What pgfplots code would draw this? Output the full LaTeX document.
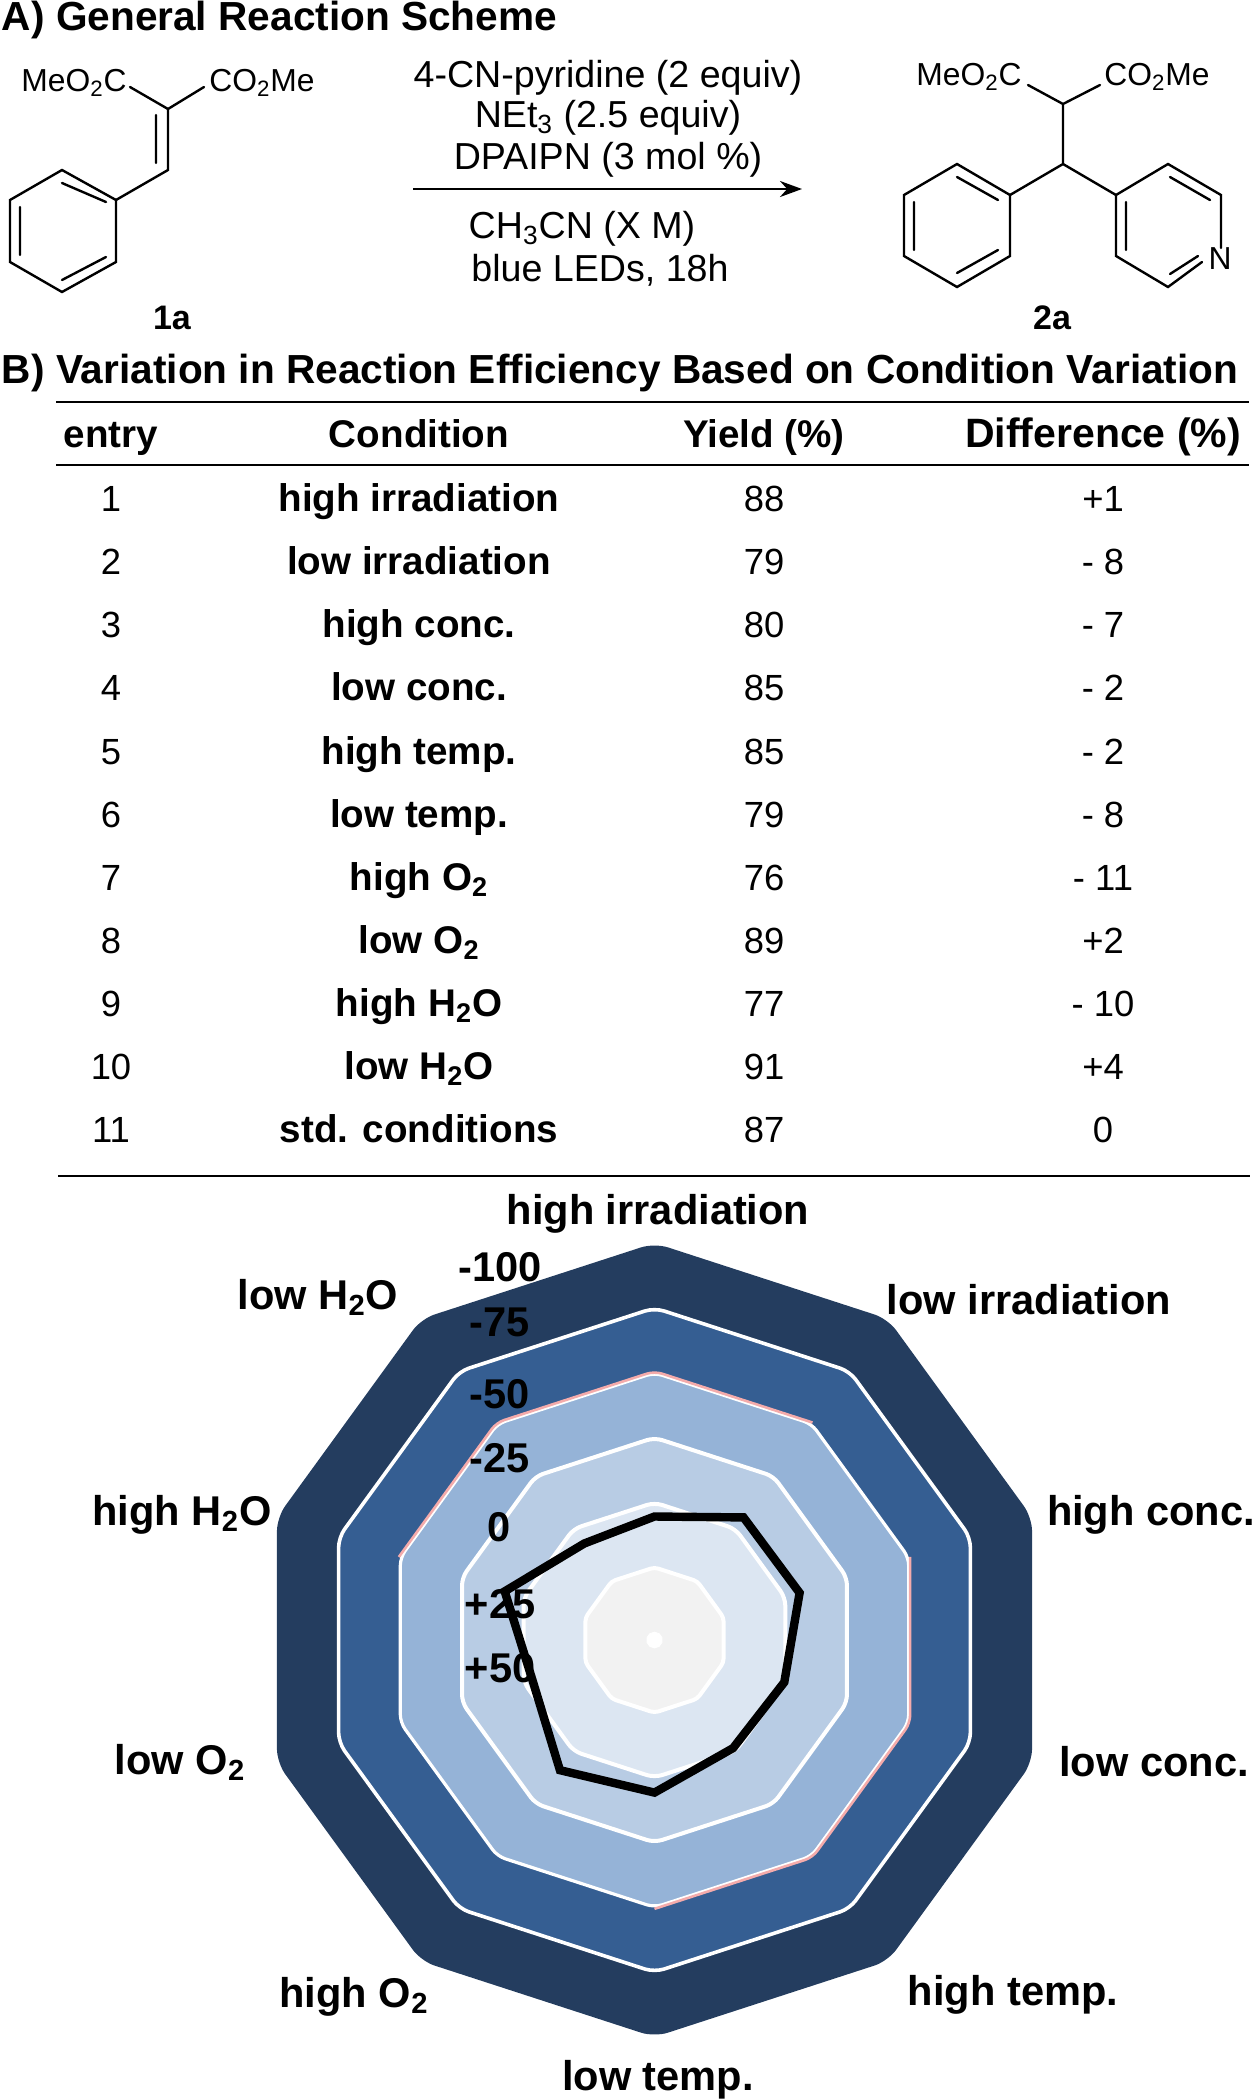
\documentclass[border=0pt]{standalone}
\usepackage{pgfplots}
\pgfplotsset{compat=1.18}
\usepackage{fontspec}
\setmainfont{Liberation Sans}
\usepgfplotslibrary{polar}
\usetikzlibrary{arrows.meta}
\newcommand\fs[1]{\fontsize{#1}{#1}\selectfont}
\newcommand\sub[1]{\textsubscript{#1}}
\definecolor{band1}{HTML}{243D5F}
\definecolor{band2}{HTML}{355E92}
\definecolor{band3}{HTML}{95B3D7}
\definecolor{band4}{HTML}{B8CCE4}
\definecolor{band5}{HTML}{DCE6F2}
\definecolor{band6}{HTML}{F2F2F2}
\definecolor{pinkline}{HTML}{F4ABAB}
\begin{document}
\begin{tikzpicture}
\path[use as bounding box] (0,0) rectangle (627pt,-1050pt);
\begin{polaraxis}[
  at={(327.25pt,-820pt)}, anchor=center,
  scale only axis, width=397pt, height=397pt,
  hide axis, clip=false,
  xmin=0, xmax=360, ymin=0, ymax=153,
]
% rings: angle, radius = 53 - difference (difference -100 is the outermost ring)
\addplot[fill=band1, draw=none, rounded corners=7pt] coordinates {(90,153)(54,153)(18,153)(342,153)(306,153)(270,153)(234,153)(198,153)(162,153)(126,153)} -- cycle;
\addplot[fill=band2, draw=white, line width=1.8pt, rounded corners=5pt] coordinates {(90,128)(54,128)(18,128)(342,128)(306,128)(270,128)(234,128)(198,128)(162,128)(126,128)} -- cycle;
\addplot[fill=band3, draw=white, line width=1.6pt, rounded corners=4pt] coordinates {(90,103)(54,103)(18,103)(342,103)(306,103)(270,103)(234,103)(198,103)(162,103)(126,103)} -- cycle;
\addplot[draw=pinkline, line width=1.3pt, rounded corners=4pt] coordinates {(162,103.6)(126,103.6)(90,103.6)(54,103.6)};
\addplot[draw=pinkline, line width=1.3pt, rounded corners=4pt] coordinates {(18,103.6)(342,103.6)(306,103.6)(270,103.6)};
\addplot[fill=band4, draw=white, line width=2pt, rounded corners=4pt] coordinates {(90,78)(54,78)(18,78)(342,78)(306,78)(270,78)(234,78)(198,78)(162,78)(126,78)} -- cycle;
\addplot[fill=band5, draw=white, line width=2pt, rounded corners=4pt] coordinates {(90,53)(54,53)(18,53)(342,53)(306,53)(270,53)(234,53)(198,53)(162,53)(126,53)} -- cycle;
\addplot[fill=band6, draw=white, line width=2pt, rounded corners=2pt] coordinates {(90,28)(54,28)(18,28)(342,28)(306,28)(270,28)(234,28)(198,28)(162,28)(126,28)} -- cycle;
\addplot[fill=white, draw=white, line width=0.5pt] coordinates {(90,3)(54,3)(18,3)(342,3)(306,3)(270,3)(234,3)(198,3)(162,3)(126,3)} -- cycle;
% reaction difference
\addplot[draw=black, line width=4.2pt, line join=miter] coordinates {(90,47.6)(54,58.4)(18,58.8)(342,52.6)(306,51.5)(270,58.8)(234,62)(198,49.5)(162,60.7)(126,46)} -- cycle;
\end{polaraxis}
\begin{scope}[x=0.5pt,y=-0.5pt,nodes={inner sep=0pt,outer sep=0pt}]
% scheme titles
\node[anchor=base west,font=\fs{20.3}\bfseries] at (2,30) {A) General Reaction Scheme};
\node[anchor=base west,font=\fs{20.3}\bfseries] at (2,383) {B) Variation in Reaction Efficiency Based on Condition Variation};
% left molecule
\begin{scope}[line width=1.2pt,line cap=round]
\draw (62,170)--(116,200)--(116,262)--(62,292)--(10,262)--(10,200)--cycle;
\draw (62,183)--(106,202) (20,207)--(20,255) (62,280)--(106,257);
\draw (116,200)--(168,170)--(168,109) (156,115)--(156,163);
\draw (130,87)--(168,109)--(204,87);
% right molecule
\draw (957,164)--(1010,195)--(1010,256)--(957,287)--(904,256)--(904,195)--cycle;
\draw (957,177)--(998,200) (914,202)--(914,250) (957,273)--(998,250);
\draw (1010,195)--(1063,164)--(1116,195) (1063,164)--(1063,104) (1028,85)--(1063,104)--(1100,85);
\draw (1221,248)--(1221,195)--(1168,164)--(1116,195)--(1116,256)--(1168,287)--(1202,262);
\draw (1170,177)--(1210,200) (1126,202)--(1126,250) (1170,274)--(1198,256);
\end{scope}
\begin{scope}[font=\fs{15.9},nodes={anchor=base}]
\node at (74,91) {MeO\sub{2}C};
\node at (262,91) {CO\sub{2}Me};
\node at (969,85) {MeO\sub{2}C};
\node at (1157,85) {CO\sub{2}Me};
\node at (1220,269) {N};
\end{scope}
\begin{scope}[font=\fs{18.8},nodes={anchor=base}]
\node at (608,87) {4-CN-pyridine (2 equiv)};
\node at (608,127) {NEt\sub{3} (2.5 equiv)};
\node at (608,169) {DPAIPN (3 mol \%)};
\node at (582,238) {CH\sub{3}CN (X M)};
\node at (600,281) {blue LEDs, 18h};
\end{scope}
\draw[line width=1.3pt,-{Stealth[length=11pt,width=8pt]}] (413,189)--(802,189);
\node[anchor=base,font=\fs{17}\bfseries] at (172,329) {1a};
\node[anchor=base,font=\fs{17}\bfseries] at (1052,329) {2a};
% table
\draw[line width=1pt] (56,402)--(1249,402) (56,465)--(1249,465) (58,1176)--(1250,1176);
\begin{scope}[font=\fs{19.3}\bfseries,nodes={anchor=base}]
\node at (111,447) {entry};
\node at (419,447) {Condition};
\node at (764,447) {Yield (\%)};
\node[font=\fs{20.5}\bfseries] at (1103,447) {Difference (\%)};
\end{scope}
\foreach \y/\n/\c/\v/\d in {498/1/high irradiation/88/+1,561/2/low irradiation/79/- 8,624.5/3/high conc./80/- 7,687.5/4/low conc./85/- 2,751/5/high temp./85/- 2,814/6/low temp./79/- 8,877/7/high O\sub{2}/76/- 11,940/8/low O\sub{2}/89/+2,1003/9/high H\sub{2}O/77/- 10,1066/10/low H\sub{2}O/91/+4,1129/11/std. conditions/87/0}{
  \path (0,\y) ++(0,13) coordinate (b);
  \node[anchor=base,font=\fs{18.2}] at (b-|111,0) {\n};
  \node[anchor=base,font=\fs{19.3}\bfseries] at (b-|419,0) {\c};
  \node[anchor=base,font=\fs{18.2}] at (b-|764,0) {\v};
  \node[anchor=base,font=\fs{18.2}] at (b-|1103,0) {\d};
}
% radar labels
\begin{scope}[font=\fs{20.8}\bfseries,nodes={anchor=base}]
\node at (658,1224) {high irradiation};
\node at (1029,1314) {low irradiation};
\node at (1151,1525) {high conc.};
\node at (1154,1776) {low conc.};
\node at (1013,2005) {high temp.};
\node at (658,2090) {low temp.};
\node at (354,2007) {high O\sub{2}};
\node at (180,1774) {low O\sub{2}};
\node at (182,1525) {high H\sub{2}O};
\node at (318,1309) {low H\sub{2}O};
\node at (500,1281) {-100};
\node at (500,1336) {-75};
\node at (500,1408) {-50};
\node at (500,1472) {-25};
\node at (499,1541) {0};
\node at (500,1618) {+25};
\node at (500,1682) {+50};
\end{scope}
\end{scope}
\end{tikzpicture}
\end{document}
